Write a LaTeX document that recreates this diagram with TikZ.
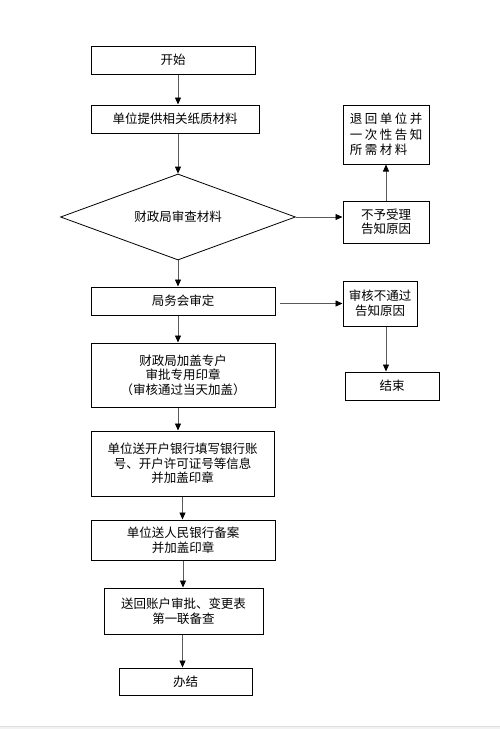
\documentclass[tikz,border=0pt]{standalone}
\usepackage{fontspec}
\newfontfamily\cjk{Noto Sans CJK SC}
\newfontfamily\cjkwide[LetterSpace=20]{Noto Sans CJK SC}
\usetikzlibrary{shapes.geometric, arrows.meta, positioning, calc}
\tikzset{proc/.style={draw, line width=1pt, align=center, inner sep=0pt}}
\tikzset{check/.style={draw, diamond, aspect=2.7, line width=0.8pt, inner sep=0pt, minimum width=235pt, minimum height=86pt}}
\tikzset{flow/.style={-{Triangle[length=7pt,width=6pt,color=black]}, draw=black!65, line width=0.8pt}}
\tikzset{band/.style={fill=black!5}}

\begin{document}
\begin{tikzpicture}[x=1pt, y=-1pt, font=\cjk\fontsize{12.5}{14.5}\selectfont]
\path[use as bounding box] (0,0) rectangle (500,729);
\fill[band] (0,726) rectangle (500,729);
\draw[black!12] (0,726) -- (500,726);

% main column
\node[proc, minimum width=164pt, minimum height=28pt] (start) at (173,60) {开始};
\node[proc, minimum width=168pt, minimum height=28pt] (supply) at (175,119) {单位提供相关纸质材料};
\node[check] (audit) at (178,217) {财政局审查材料};
\node[proc, minimum width=184pt, minimum height=28pt] (meeting) at (183,301) {局务会审定};
\node[proc, minimum width=184pt, minimum height=64pt] (seal) at (183,375) {财政局加盖专户\\审批专用印章\\（审核通过当天加盖）};
\node[proc, minimum width=183pt, minimum height=65pt] (bank) at (182.5,463.5) {单位送开户银行填写银行账\\号、开户许可证号等信息\\并加盖印章};
\node[proc, minimum width=184pt, minimum height=40pt] (pboc) at (183,540) {单位送人民银行备案\\并加盖印章};
\node[proc, minimum width=159pt, minimum height=46pt] (file) at (183.5,611) {送回账户审批、变更表\\第一联备查};
\node[proc, minimum width=133pt, minimum height=27pt] (done) at (185.5,681.5) {办结};

% side branches
\node[proc, minimum width=86pt, minimum height=42pt] (reject) at (386,222) {不予受理\\告知原因};
\node[proc, minimum width=86pt, minimum height=59pt, align=left, font=\cjkwide\fontsize{12.5}{15.5}\selectfont] (return) at (386,134.5) {退回单位并\\一次性告知\\所需材料};
\node[proc, minimum width=74pt, minimum height=45pt] (fail) at (380,303.5) {审核不通过\\告知原因};
\node[proc, minimum width=94pt, minimum height=28pt] (finish) at (392,386) {结束};

\draw[flow] (start.south -| audit) -- (supply.north -| audit);
\draw[flow] (supply.south -| audit) -- (audit.north);
\draw[flow] (audit.east) -- (audit.east -| reject.west);
\draw[flow] (reject) -- (return);
\draw[flow] (audit.south) -- (meeting.north -| audit);
\draw[flow] ([xshift=4pt]fail.west -| meeting.east) -- (fail.west);
\draw[flow] (fail.south -| reject) -- (finish.north -| reject);
\draw[flow] (meeting.south -| audit) -- (seal.north -| audit);
\draw[flow] (seal.south -| audit) -- (bank.north -| audit);
\draw[flow] (bank.south) -- (bank.south |- pboc.north);
\draw[flow] (pboc.south) -- (pboc.south |- file.north);
\draw[flow] (file.south -| bank) -- (done.north -| bank);
\end{tikzpicture}
\end{document}
